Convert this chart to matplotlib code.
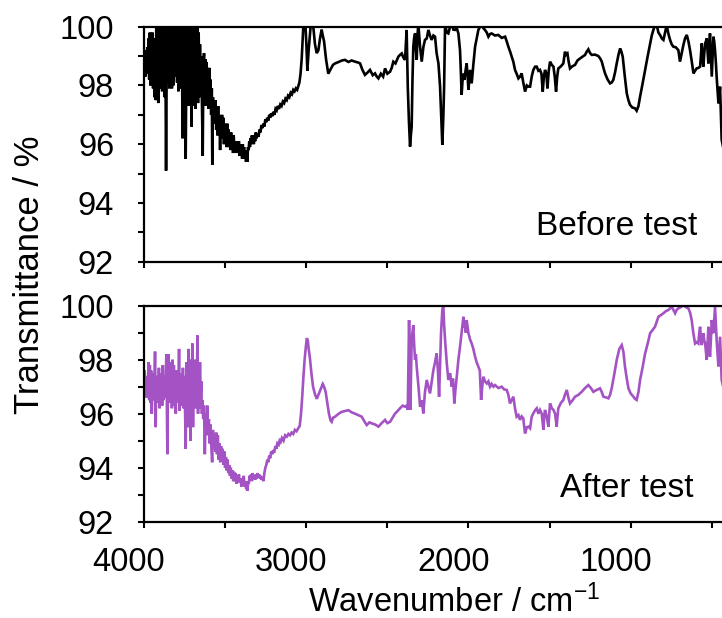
import matplotlib
matplotlib.use("Agg")
import matplotlib.pyplot as plt
import matplotlib.transforms as mtransforms
from matplotlib.ticker import MultipleLocator

plt.rcParams['font.family'] = ['Liberation Sans', 'DejaVu Sans']
plt.rcParams['mathtext.fontset'] = 'custom'
plt.rcParams['mathtext.rm'] = 'Liberation Sans'
plt.rcParams['mathtext.default'] = 'regular'

# ---------------- data: "Before test" spectrum ----------------
wn_before = [
    4000, 3996, 3992, 3988, 3984, 3980, 3976, 3972, 3968, 3964,
    3960, 3956, 3952, 3948, 3944, 3940, 3936, 3932, 3928, 3924,
    3920, 3916, 3912, 3908, 3904, 3900, 3896, 3892, 3888, 3884,
    3880, 3876, 3872, 3868, 3864, 3860, 3856, 3852, 3848, 3844,
    3840, 3836, 3832, 3828, 3824, 3820, 3816, 3812, 3808, 3804,
    3800, 3796, 3792, 3788, 3784, 3780, 3776, 3772, 3768, 3762,
    3758, 3754, 3750, 3746, 3743, 3739, 3735, 3731, 3727, 3723,
    3719, 3715, 3711, 3707, 3703, 3699, 3695, 3691, 3687, 3683,
    3679, 3675, 3671, 3667, 3663, 3659, 3655, 3651, 3647, 3643,
    3638, 3634, 3630, 3626, 3622, 3618, 3614, 3610, 3606, 3602,
    3598, 3594, 3590, 3586, 3582, 3579, 3575, 3571, 3567, 3563,
    3559, 3555, 3551, 3547, 3543, 3539, 3535, 3531, 3527, 3523,
    3519, 3515, 3511, 3507, 3503, 3499, 3495, 3491, 3487, 3483,
    3479, 3475, 3471, 3467, 3463, 3459, 3455, 3451, 3447, 3443,
    3439, 3435, 3431, 3427, 3423, 3419, 3415, 3411, 3407, 3403,
    3399, 3395, 3391, 3387, 3383, 3379, 3375, 3371, 3367, 3363,
    3359, 3355, 3351, 3347, 3343, 3339, 3335, 3331, 3327, 3323,
    3319, 3315, 3311, 3307, 3300, 3294, 3288, 3282, 3276, 3270,
    3264, 3258, 3252, 3246, 3240, 3234, 3228, 3222, 3216, 3210,
    3203, 3196, 3189, 3182, 3175, 3168, 3160, 3152, 3144, 3136,
    3128, 3120, 3112, 3104, 3096, 3088, 3080, 3072, 3064, 3056,
    3048, 3042, 3035, 3028, 3018, 3007, 2999, 2993, 2985, 2973,
    2960, 2953, 2946, 2935, 2925, 2915, 2905, 2898, 2890, 2878,
    2864, 2850, 2835, 2822, 2800, 2780, 2761, 2740, 2720, 2699,
    2680, 2668, 2655, 2638, 2620, 2607, 2590, 2576, 2565, 2555,
    2540, 2526, 2514, 2500, 2483, 2473, 2463, 2450, 2432, 2420,
    2411, 2401, 2391, 2381, 2374, 2367, 2360, 2355, 2350, 2345,
    2340, 2335, 2329, 2324, 2319, 2314, 2309, 2298, 2288, 2278,
    2268, 2257, 2247, 2237, 2227, 2216, 2206, 2196, 2185, 2175,
    2168, 2161, 2155, 2150, 2144, 2134, 2124, 2113, 2103, 2093,
    2083, 2072, 2062, 2052, 2047, 2042, 2034, 2025, 2018, 2011,
    2005, 2000, 1995, 1990, 1985, 1980, 1970, 1959, 1949, 1939,
    1928, 1918, 1908, 1898, 1887, 1877, 1867, 1857, 1836, 1816,
    1795, 1774, 1764, 1754, 1743, 1733, 1723, 1713, 1703, 1692,
    1682, 1672, 1662, 1651, 1640, 1630, 1620, 1610, 1600, 1589,
    1579, 1569, 1559, 1550, 1542, 1535, 1528, 1520, 1513, 1505,
    1497, 1486, 1476, 1468, 1460, 1453, 1446, 1430, 1415, 1410,
    1405, 1398, 1390, 1382, 1374, 1360, 1343, 1328, 1312, 1297,
    1281, 1271, 1261, 1250, 1240, 1220, 1199, 1188, 1178, 1168,
    1158, 1142, 1127, 1117, 1107, 1096, 1086, 1075, 1065, 1057,
    1049, 1036, 1024, 1014, 1004, 990, 973, 963, 952, 942,
    927, 911, 895, 880, 870, 860, 850, 839, 829, 819,
    808, 798, 788, 778, 767, 757, 747, 737, 722, 706,
    701, 696, 685, 675, 665, 654, 644, 634, 623, 613,
    603, 593, 582, 572, 567, 562, 557, 552, 546, 541,
    536, 531, 526, 521, 516, 511, 505, 500, 495, 490,
    485, 480, 475, 470, 464, 459, 454, 449, 444, 439, 430,
]
t_before = [
    98.6, 99.2, 98.3, 99.0, 98.4, 99.3, 98.6, 99.6, 98.2, 99.8,
    98.0, 99.4, 98.5, 99.8, 97.9, 99.0, 97.6, 99.6, 97.5, 100.3,
    98.2, 100.2, 97.4, 99.5, 97.9, 100.3, 98.6, 100.1, 97.8, 99.6,
    98.3, 100.3, 97.6, 99.0, 95.1, 98.8, 100.3, 98.2, 100.2, 97.9,
    99.7, 98.4, 100.3, 97.9, 100.1, 98.0, 99.4, 98.3, 100.3, 98.6,
    100.2, 98.1, 99.8, 97.8, 100.3, 98.5, 99.9, 97.9, 100.2, 96.2,
    99.0, 100.3, 98.0, 99.5, 95.5, 98.6, 100.3, 97.6, 100.2, 97.3,
    100.3, 97.5, 99.9, 96.6, 100.3, 97.3, 100.1, 97.6, 100.3, 97.2,
    100.2, 97.8, 100.3, 97.4, 99.8, 97.6, 99.4, 98.0, 99.0, 97.5,
    95.6, 98.6, 99.1, 97.6, 98.9, 97.3, 98.8, 97.8, 98.5, 97.2,
    98.6, 97.5, 98.2, 97.0, 97.9, 95.3, 97.6, 96.8, 97.5, 96.7,
    97.5, 96.5, 97.0, 96.3, 97.3, 96.4, 97.0, 95.8, 96.8, 96.2,
    97.0, 96.3, 96.9, 96.0, 96.7, 96.1, 96.6, 95.9, 96.7, 96.1,
    96.5, 95.9, 96.4, 95.8, 96.4, 95.9, 96.2, 95.7, 96.3, 95.8,
    96.1, 95.7, 96.1, 95.8, 96.0, 95.7, 96.1, 95.6, 96.0, 95.7,
    95.9, 95.5, 96.0, 95.7, 95.9, 95.5, 95.8, 95.4, 95.7, 95.4,
    95.9, 95.8, 96.1, 95.9, 96.2, 96.0, 96.3, 96.05, 96.2, 96.0,
    96.3, 96.1, 96.4, 96.2, 96.35, 96.25, 96.5, 96.4, 96.65, 96.55,
    96.7, 96.6, 96.85, 96.75, 96.9, 96.8, 97.0, 96.9, 97.05, 96.95,
    97.1, 97.0, 97.2, 97.15, 97.3, 97.2, 97.35, 97.3, 97.45, 97.4,
    97.55, 97.5, 97.65, 97.6, 97.75, 97.7, 97.85, 97.8, 97.9, 97.85,
    98.0, 98.1, 98.4, 98.9, 100.0, 100.3, 99.4, 98.5, 99.2, 100.0,
    100.2, 99.8, 99.4, 99.1, 99.2, 99.6, 99.9, 99.7, 99.5, 98.9,
    98.4, 98.55, 98.7, 98.75, 98.8, 98.85, 98.87, 98.8, 98.85, 98.81,
    98.78, 98.75, 98.55, 98.36, 98.45, 98.53, 98.35, 98.41, 98.3, 98.24,
    98.4, 98.3, 98.58, 98.4, 98.47, 98.6, 98.81, 98.75, 98.98, 99.05,
    99.09, 98.95, 98.87, 99.89, 97.96, 96.8, 95.92, 96.3, 96.6, 98.2,
    99.32, 99.6, 99.77, 99.2, 98.87, 99.7, 100.1, 99.3, 98.81, 99.3,
    99.55, 99.6, 99.89, 99.7, 99.55, 99.7, 99.66, 99.09, 98.75, 97.96,
    97.0, 95.98, 96.9, 97.96, 100.1, 99.8, 99.77, 100.0, 100.1, 99.9,
    99.89, 99.95, 99.77, 99.2, 98.5, 97.68, 98.4, 98.19, 98.5, 98.75,
    98.3, 97.85, 98.2, 98.53, 98.3, 98.07, 98.7, 99.32, 99.6, 99.89,
    100.0, 100.1, 99.95, 99.89, 99.8, 99.66, 99.75, 99.77, 99.7, 99.72,
    99.62, 99.66, 99.5, 99.32, 99.15, 98.98, 98.8, 98.53, 98.4, 98.24,
    98.3, 98.41, 98.1, 97.79, 98.0, 97.96, 97.96, 98.3, 98.53, 98.64,
    98.64, 98.5, 98.53, 98.4, 97.79, 98.3, 98.53, 98.4, 97.9, 98.5,
    98.81, 98.7, 98.64, 98.3, 97.79, 98.3, 98.58, 98.65, 98.75, 98.95,
    99.15, 99.05, 99.09, 98.8, 98.58, 98.65, 98.7, 98.85, 98.92, 98.98,
    99.04, 99.15, 99.23, 99.1, 99.04, 99.05, 99.0, 98.92, 98.81, 98.6,
    98.41, 98.2, 98.07, 98.1, 98.19, 98.45, 98.75, 99.05, 99.26, 99.15,
    98.98, 98.3, 97.73, 97.5, 97.34, 97.25, 97.22, 97.14, 97.3, 97.62,
    98.05, 98.53, 99.0, 99.43, 99.7, 99.89, 100.05, 100.05, 99.8, 99.72,
    99.6, 99.55, 99.8, 100.05, 99.75, 99.55, 99.4, 99.32, 99.3, 99.2,
    99.0, 98.81, 99.1, 99.38, 99.6, 99.72, 99.5, 99.2, 98.8, 98.41,
    98.5, 98.58, 98.6, 98.64, 99.0, 99.43, 99.0, 98.64, 99.1, 99.43,
    99.5, 99.6, 99.2, 98.75, 99.3, 99.77, 99.0, 98.3, 99.0, 99.66,
    99.5, 99.2, 98.8, 98.3, 97.8, 97.39, 97.6, 97.96, 97.0, 96.15, 95.9,
]

# ---------------- data: "After test" spectrum ----------------
wn_after = [
    4000, 3996, 3992, 3988, 3984, 3980, 3976, 3972, 3968, 3964,
    3960, 3956, 3952, 3948, 3944, 3940, 3936, 3932, 3928, 3924,
    3920, 3916, 3912, 3908, 3904, 3900, 3896, 3892, 3888, 3884,
    3880, 3876, 3872, 3868, 3862, 3856, 3852, 3848, 3844, 3840,
    3836, 3832, 3828, 3824, 3820, 3816, 3812, 3808, 3804, 3800,
    3796, 3792, 3788, 3784, 3780, 3776, 3772, 3768, 3764, 3760,
    3756, 3752, 3748, 3743, 3738, 3734, 3730, 3726, 3722, 3718,
    3714, 3710, 3706, 3702, 3698, 3694, 3690, 3686, 3682, 3678,
    3674, 3671, 3667, 3663, 3659, 3655, 3651, 3647, 3643, 3639,
    3635, 3630, 3625, 3620, 3615, 3610, 3605, 3600, 3595, 3590,
    3585, 3580, 3575, 3570, 3565, 3560, 3555, 3550, 3545, 3540,
    3535, 3530, 3525, 3520, 3515, 3510, 3505, 3500, 3495, 3490,
    3485, 3480, 3475, 3470, 3465, 3460, 3455, 3450, 3445, 3440,
    3435, 3430, 3425, 3420, 3415, 3410, 3405, 3400, 3395, 3390,
    3385, 3380, 3375, 3370, 3366, 3362, 3358, 3354, 3350, 3345,
    3340, 3335, 3330, 3325, 3320, 3315, 3310, 3305, 3300, 3295,
    3290, 3285, 3280, 3275, 3270, 3264, 3258, 3252, 3246, 3240,
    3234, 3228, 3222, 3216, 3210, 3204, 3198, 3190, 3184, 3178,
    3170, 3164, 3158, 3150, 3140, 3130, 3120, 3110, 3100, 3090,
    3080, 3070, 3060, 3050, 3040, 3032, 3025, 3018, 3010, 3002,
    2996, 2990, 2985, 2978, 2968, 2958, 2945, 2935, 2925, 2912,
    2898, 2890, 2880, 2870, 2860, 2850, 2843, 2835, 2822, 2800,
    2781, 2760, 2740, 2720, 2699, 2680, 2658, 2640, 2627, 2610,
    2596, 2575, 2555, 2535, 2514, 2500, 2483, 2468, 2453, 2437,
    2422, 2405, 2391, 2380, 2374, 2366, 2362, 2358, 2354, 2350,
    2345, 2340, 2335, 2329, 2324, 2319, 2308, 2298, 2288, 2278,
    2268, 2257, 2247, 2237, 2226, 2216, 2206, 2196, 2188, 2181,
    2175, 2169, 2161, 2155, 2150, 2144, 2134, 2124, 2113, 2103,
    2095, 2087, 2080, 2072, 2062, 2052, 2042, 2031, 2026, 2021,
    2016, 2011, 2005, 2000, 1990, 1980, 1970, 1959, 1949, 1939,
    1930, 1922, 1915, 1908, 1898, 1887, 1877, 1867, 1857, 1846,
    1836, 1815, 1795, 1780, 1764, 1754, 1744, 1734, 1723, 1713,
    1703, 1692, 1682, 1672, 1662, 1656, 1651, 1640, 1630, 1620,
    1610, 1600, 1589, 1579, 1569, 1559, 1548, 1538, 1533, 1528,
    1518, 1507, 1502, 1497, 1486, 1476, 1466, 1456, 1451, 1446,
    1430, 1415, 1405, 1394, 1384, 1374, 1358, 1343, 1322, 1302,
    1281, 1261, 1245, 1230, 1210, 1189, 1178, 1168, 1150, 1137,
    1127, 1117, 1100, 1086, 1070, 1055, 1045, 1035, 1024, 1014,
    1000, 983, 973, 963, 952, 942, 927, 911, 895, 880,
    865, 850, 840, 829, 815, 798, 783, 768, 757, 747,
    737, 726, 716, 706, 690, 675, 660, 644, 634, 624,
    614, 603, 593, 583, 577, 572, 567, 562, 557, 552,
    546, 541, 536, 531, 526, 521, 516, 511, 505, 500,
    495, 490, 485, 480, 475, 470, 464, 459, 454, 449,
    444, 439, 430,
]
t_after = [
    97.0, 97.6, 96.8, 97.4, 96.6, 97.3, 96.9, 97.9, 96.5, 97.8,
    96.4, 97.6, 96.0, 97.0, 96.5, 97.5, 96.8, 98.3, 95.5, 97.4,
    96.4, 97.2, 96.6, 97.7, 96.2, 97.5, 96.8, 97.2, 96.3, 97.8,
    96.5, 97.3, 96.6, 97.0, 98.2, 94.5, 97.2, 98.2, 96.4, 97.9,
    96.5, 97.5, 96.2, 98.0, 96.6, 97.8, 96.3, 97.4, 96.0, 97.6,
    96.4, 97.3, 96.7, 98.4, 96.1, 97.2, 96.5, 97.5, 96.3, 97.7,
    96.2, 97.4, 96.5, 94.7, 97.9, 96.3, 95.5, 98.4, 96.6, 97.8,
    95.0, 98.0, 96.4, 98.6, 95.5, 97.2, 96.5, 98.0, 96.2, 97.7,
    96.8, 98.9, 96.0, 97.4, 96.2, 97.9, 96.6, 97.2, 96.0, 96.5,
    95.8, 96.3, 94.5, 96.0, 95.6, 96.3, 95.2, 95.8, 94.9, 95.6,
    94.8, 94.2, 95.4, 94.8, 95.0, 94.6, 95.3, 94.5, 95.2, 94.3,
    94.9, 94.2, 94.8, 94.3, 94.7, 94.1, 94.6, 94.0, 94.4, 93.9,
    94.3, 93.8, 94.1, 93.7, 94.0, 93.6, 93.9, 93.5, 93.85, 93.5,
    93.8, 93.4, 93.7, 93.45, 93.75, 93.5, 93.6, 93.3, 93.6, 93.4,
    93.7, 93.3, 93.5, 93.2, 93.35, 93.15, 93.5, 93.4, 93.7, 93.6,
    93.75, 93.5, 93.8, 93.6, 93.7, 93.55, 93.75, 93.6, 93.8, 93.65,
    93.75, 93.6, 93.7, 93.55, 93.65, 93.5, 93.8, 94.0, 94.1, 94.3,
    94.2, 94.45, 94.35, 94.6, 94.5, 94.65, 94.55, 94.8, 94.7, 94.9,
    94.85, 95.0, 94.95, 95.1, 95.0, 95.2, 95.15, 95.25, 95.2, 95.3,
    95.25, 95.4, 95.35, 95.45, 95.55, 96.0, 96.6, 97.3, 98.0, 98.5,
    98.8, 98.7, 98.4, 98.1, 97.5, 97.0, 96.7, 96.55, 96.7, 96.9,
    97.1, 97.0, 96.8, 96.4, 96.0, 95.75, 95.7, 95.85, 95.89, 96.0,
    96.07, 96.1, 96.13, 96.05, 96.0, 95.95, 95.89, 95.7, 95.58, 95.68,
    95.64, 95.6, 95.52, 95.65, 95.77, 95.65, 95.7, 95.85, 96.0, 96.1,
    96.2, 96.3, 96.26, 96.3, 96.14, 99.47, 98.0, 96.14, 97.5, 98.73,
    99.0, 99.28, 98.6, 97.99, 98.2, 97.74, 97.0, 96.26, 96.5, 96.01,
    96.8, 97.25, 97.0, 96.75, 97.2, 97.62, 97.9, 98.23, 97.6, 96.63,
    97.8, 98.98, 99.84, 100.02, 99.3, 98.73, 97.9, 97.25, 97.5, 97.0,
    97.3, 96.38, 96.9, 97.37, 98.0, 98.48, 99.0, 99.59, 99.2, 99.35,
    99.0, 99.47, 99.2, 98.98, 98.75, 98.6, 98.4, 98.11, 97.9, 97.74,
    97.6, 96.51, 97.0, 97.37, 97.2, 97.12, 97.2, 97.0, 97.1, 97.0,
    97.06, 96.95, 97.0, 96.9, 96.88, 96.7, 96.38, 96.5, 96.63, 96.2,
    95.89, 95.95, 95.77, 95.9, 95.83, 95.5, 95.27, 95.5, 95.52, 95.46,
    95.89, 96.01, 96.13, 96.2, 96.0, 96.14, 96.0, 95.4, 95.9, 96.14,
    95.9, 95.52, 96.0, 96.38, 96.2, 96.14, 96.0, 95.52, 95.9, 96.2,
    96.4, 96.51, 96.7, 96.88, 96.6, 96.38, 96.5, 96.63, 96.7, 96.81,
    96.95, 97.06, 96.95, 96.81, 96.88, 96.94, 96.8, 96.63, 96.6, 96.57,
    96.7, 96.94, 97.5, 97.99, 98.4, 98.54, 98.3, 97.74, 97.3, 96.94,
    96.75, 96.63, 96.55, 96.51, 96.8, 97.25, 97.7, 98.23, 98.6, 98.98,
    99.1, 99.22, 99.4, 99.59, 99.65, 99.72, 99.8, 99.84, 99.9, 99.96,
    99.85, 99.72, 99.85, 99.9, 99.95, 100.02, 99.95, 99.9, 99.75, 99.47,
    99.0, 98.6, 98.65, 98.6, 99.0, 99.22, 98.8, 98.54, 98.8, 98.98,
    98.7, 98.6, 98.3, 97.99, 98.6, 99.22, 98.6, 98.11, 98.8, 99.47,
    99.2, 98.98, 99.5, 99.96, 99.3, 98.73, 98.2, 97.74, 98.3, 98.85,
    98.0, 97.25, 97.0,
]

labels = ["Before test", "After test"]
x_ticks = [4000, 3000, 2000, 1000]
y_ticks = [92, 94, 96, 98, 100]

colors = ["#000000", "#a453c4"]

fig = plt.figure(figsize=(7.22, 6.18), dpi=100)
W, H = 722.0, 618.0
left = 144 / W
width = (W - 144) / W
ax1 = fig.add_axes([left, (H - 261.7) / H, width, (261.7 - 26.7) / H])
ax2 = fig.add_axes([left, (H - 521.7) / H, width, (521.7 - 305.7) / H])

ax1.plot(wn_before, t_before, color=colors[0], lw=1.9, solid_joinstyle='miter')
ax2.plot(wn_after, t_after, color=colors[1], lw=1.9, solid_joinstyle='miter')

for ax in (ax1, ax2):
    ax.set_xlim(4000, 437)
    ax.set_ylim(92, 100)
    ax.xaxis.set_major_locator(MultipleLocator(1000))
    ax.xaxis.set_minor_locator(MultipleLocator(500))
    ax.yaxis.set_major_locator(MultipleLocator(2))
    ax.yaxis.set_minor_locator(MultipleLocator(1))
    ax.spines['right'].set_visible(False)
    for s in ('left', 'top', 'bottom'):
        ax.spines[s].set_linewidth(1.6)
    ax.tick_params(which='both', direction='out', length=4.5, width=1.5,
                   top=False, right=False, labelsize=23.5)
    ax.tick_params(axis='y', which='major', pad=17)
    ax.tick_params(axis='x', which='major', pad=13.5)
    ax.set_yticks(y_ticks)
    ax.set_yticklabels([str(v) for v in y_ticks])

ax1.tick_params(axis='x', labelbottom=False)
ax2.set_xticks(x_ticks)
ax2.set_xticklabels([str(v) for v in x_ticks])

offset = mtransforms.ScaledTranslation(-0.15, 0, fig.dpi_scale_trans)
for lbl in ax2.get_xticklabels():
    lbl.set_transform(lbl.get_transform() + offset)

fig.text(697 / W, (H - 235) / H, labels[0], ha='right', va='baseline', fontsize=24)
fig.text(693 / W, (H - 497) / H, labels[1], ha='right', va='baseline', fontsize=24)

fig.text(30 / W, (H - 275) / H, "Transmittance / %", rotation=90,
         ha='center', va='center', fontsize=25)
fig.text(454 / W, (H - 612) / H, r"Wavenumber / cm$^{-1}$",
         ha='center', va='baseline', fontsize=23.5)

fig.savefig("out.png", dpi=100)
